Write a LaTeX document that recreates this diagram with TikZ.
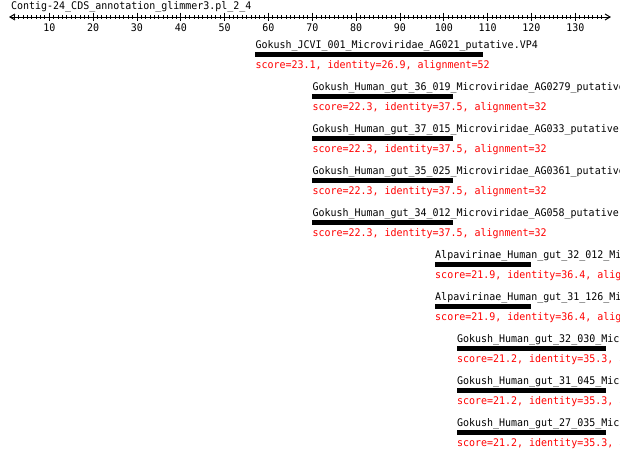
\documentclass[tikz,border=0pt]{standalone}
\usepackage{fontspec}
\setmonofont[FakeStretch=0.95]{DejaVu Sans Mono}
\definecolor{hitred}{RGB}{255,0,0}
\tikzset{
  txt/.style={font=\ttfamily\fontsize{10.5}{12}\selectfont, inner sep=0pt, anchor=base west},
  lab/.style={txt, text=black},
  scr/.style={txt, text=hitred},
  num/.style={font=\ttfamily\fontsize{10.5}{12}\selectfont, inner sep=0pt, anchor=base},
  axisline/.style={line width=1pt, black},
}
\newcommand\hitrow[5]{%
  \pgfmathsetmacro\yb{48.2+42*(#1-1)}%
  \pgfmathsetmacro\ys{68.3+42*(#1-1)}%
  \pgfmathsetmacro\ybar{52.3+42*(#1-1)}%
  \pgfmathsetmacro\xs{5.5+4.383*#2}%
  \pgfmathsetmacro\xe{5.5+4.383*(#2+#3)}%
  \node[lab] (l#1) at (\xs,\yb) {#4};
  \fill[black] (\xs,\ybar) rectangle (\xe,\ybar+4.3);
  \node[scr] (s#1) at (\xs,\ys) {#5};
}
\begin{document}
\begin{tikzpicture}[x=1pt,y=-1pt]
\useasboundingbox (0,0) rectangle (620,461);
% title
\node[lab] (title) at (11,9.4) {Contig-24\_CDS\_annotation\_glimmer3.pl\_2\_4};
% axis
\draw[axisline] (10,17) -- (610,17);
\draw[axisline] (15,14) -- (10,17) -- (15,20);
\draw[axisline] (605,14) -- (610,17) -- (605,20);
\foreach \v in {2,...,136}{
  \pgfmathsetmacro\xx{5.5+4.383*\v}
  \draw[line width=0.9pt] (\xx,15) -- (\xx,19);
}
\foreach \v in {10,20,...,130}{
  \pgfmathsetmacro\xx{5.5+4.383*\v}
  \draw[line width=0.9pt] (\xx,12.7) -- (\xx,20.5);
  \node[num] (n\v) at (\xx,31) {\v};
}
% hits
\hitrow{1}{57}{52}{Gokush\_JCVI\_001\_Microviridae\_AG021\_putative.VP4}{score=23.1, identity=26.9, alignment=52}
\hitrow{2}{70}{32}{Gokush\_Human\_gut\_36\_019\_Microviridae\_AG0279\_putative.VP4}{score=22.3, identity=37.5, alignment=32}
\hitrow{3}{70}{32}{Gokush\_Human\_gut\_37\_015\_Microviridae\_AG033\_putative.VP4}{score=22.3, identity=37.5, alignment=32}
\hitrow{4}{70}{32}{Gokush\_Human\_gut\_35\_025\_Microviridae\_AG0361\_putative.VP4}{score=22.3, identity=37.5, alignment=32}
\hitrow{5}{70}{32}{Gokush\_Human\_gut\_34\_012\_Microviridae\_AG058\_putative.VP4}{score=22.3, identity=37.5, alignment=32}
\hitrow{6}{98}{22}{Alpavirinae\_Human\_gut\_32\_012\_Microviridae}{score=21.9, identity=36.4, alignment=22}
\hitrow{7}{98}{22}{Alpavirinae\_Human\_gut\_31\_126\_Microviridae}{score=21.9, identity=36.4, alignment=22}
\hitrow{8}{103}{34}{Gokush\_Human\_gut\_32\_030\_Microviridae}{score=21.2, identity=35.3, alignment=34}
\hitrow{9}{103}{34}{Gokush\_Human\_gut\_31\_045\_Microviridae}{score=21.2, identity=35.3, alignment=34}
\hitrow{10}{103}{34}{Gokush\_Human\_gut\_27\_035\_Microviridae}{score=21.2, identity=35.3, alignment=34}
\end{tikzpicture}
\end{document}
